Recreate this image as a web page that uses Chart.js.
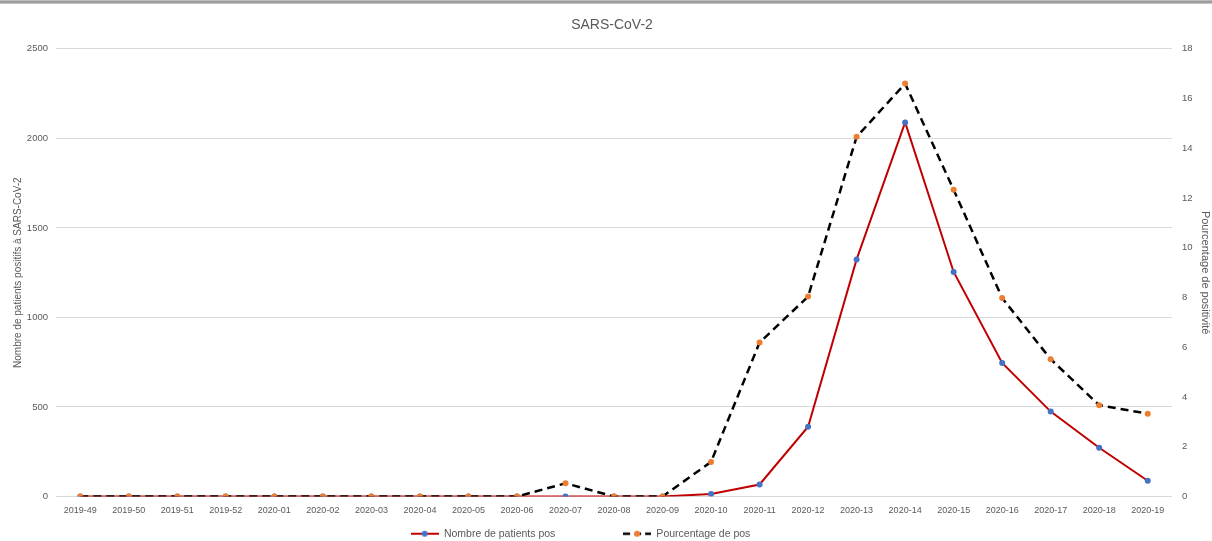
<!DOCTYPE html>
<html>
<head>
<meta charset="utf-8">
<script src="https://cdn.jsdelivr.net/npm/chart.js@4.4.1/dist/chart.umd.min.js"></script>
<style>
  html, body { margin: 0; padding: 0; background: #fff; }
  #wrap { position: relative; width: 1212px; height: 541px; }
  #topbar { position: absolute; left: 0; top: 0; width: 1212px; height: 4px;
    background: linear-gradient(#cfcfcf, #8a8a8a 50%, #d8d8d8); }
</style>
</head>
<body>
<div id="wrap">
  <canvas id="c" width="1212" height="541"></canvas>
  <div id="topbar"></div>
</div>
<script>
const FONT = "'Liberation Sans', sans-serif";
const GREY = "#595959";

const weeks = [
  "2019-49", "2019-50", "2019-51", "2019-52", "2020-01", "2020-02", "2020-03", "2020-04",
  "2020-05", "2020-06", "2020-07", "2020-08", "2020-09", "2020-10", "2020-11", "2020-12",
  "2020-13", "2020-14", "2020-15", "2020-16", "2020-17", "2020-18", "2020-19",
];
// nombre de patients positifs (axe gauche)
const patients = [0, 0, 0, 0, 0, 0, 0, 0, 0, 0, 0, 0, 0, 14, 67, 390, 1324, 2089, 1254, 746, 474, 272, 88];
// pourcentage de positivité (axe droit)
const pourcentage = [0, 0, 0, 0, 0, 0, 0, 0, 0, 0, 0.53, 0, 0, 1.39, 6.19, 8.04, 14.46, 16.6, 12.33, 7.98, 5.52, 3.67, 3.33];

const leftTicks = [0, 500, 1000, 1500, 2000, 2500];
const rightTicks = [0, 2, 4, 6, 8, 10, 12, 14, 16, 18];

function legendIcon(color, dash, dot) {
  const cv = document.createElement("canvas");
  cv.width = 28;
  cv.height = 8;
  const g = cv.getContext("2d");
  g.strokeStyle = color;
  g.lineWidth = dash ? 2.5 : 2;
  if (dash) g.setLineDash([7, 4]);
  g.beginPath();
  g.moveTo(0, 4);
  g.lineTo(28, 4);
  g.stroke();
  g.fillStyle = dot;
  g.beginPath();
  g.arc(14, 4, 3, 0, Math.PI * 2);
  g.fill();
  return cv;
}

const icons = [legendIcon("#c00000", false, "#4472c4"), legendIcon("#000000", true, "#ed7d31")];
// extra room after each legend entry, Excel spaces them widely
const legendGap = ["\u2003\u2003\u2003\u2003\u2003\u2002", "\u2003\u2003\u2003\u2003\u2003\u2003"];

new Chart(document.getElementById("c"), {
  type: "line",
  data: {
    labels: weeks,
    datasets: [
      {
        label: "Nombre de patients pos",
        data: patients,
        yAxisID: "y",
        borderColor: "#c00000",
        borderWidth: 2,
        pointBackgroundColor: "#4472c4",
        pointBorderWidth: 0,
        pointRadius: 3,
        tension: 0,
        order: 2,
      },
      {
        label: "Pourcentage de pos",
        data: pourcentage,
        yAxisID: "y1",
        borderColor: "#000000",
        borderWidth: 2.5,
        borderDash: [8, 5],
        pointBackgroundColor: "#ed7d31",
        pointBorderWidth: 0,
        pointRadius: 3,
        tension: 0,
        order: 1,
      },
    ],
  },
  options: {
    responsive: false,
    animation: false,
    layout: { padding: { top: 0, left: 12, right: 0, bottom: -8 } },
    plugins: {
      title: {
        display: true,
        text: "SARS-CoV-2",
        color: GREY,
        font: { family: FONT, size: 14, weight: "normal" },
        padding: { top: 17, bottom: 15 },
      },
      legend: {
        position: "bottom",
        labels: {
          color: GREY,
          font: { family: FONT, size: 10.5 },
          usePointStyle: true,
          pointStyleWidth: 28,
          padding: 10,
          generateLabels: (chart) =>
            chart.data.datasets.map((ds, i) => ({
              text: ds.label + legendGap[i],
              datasetIndex: i,
              pointStyle: icons[i],
              fontColor: GREY,
              lineWidth: 0,
              hidden: !chart.isDatasetVisible(i),
            })),
        },
      },
      tooltip: { enabled: false },
    },
    scales: {
      x: {
        offset: true,
        afterFit: (s) => { s.height = 22; },
        grid: { display: false, drawTicks: false },
        border: { display: false },
        ticks: { color: GREY, font: { family: FONT, size: 9 }, maxRotation: 0, autoSkip: false, padding: 9 },
      },
      y: {
        position: "left",
        min: 0,
        max: 2500,
        afterBuildTicks: (s) => { s.ticks = leftTicks.map((v) => ({ value: v })); },
        afterFit: (s) => { s.width = 44; },
        grid: { color: "#d9d9d9", drawTicks: false },
        border: { display: false },
        ticks: { color: GREY, font: { family: FONT, size: 9.5 }, padding: 8, callback: (v) => String(v) },
        title: {
          display: true,
          text: "Nombre de patients positifs à SARS-CoV-2",
          color: GREY,
          font: { family: FONT, size: 10 },
          padding: 0,
        },
      },
      y1: {
        position: "right",
        min: 0,
        max: 18,
        afterBuildTicks: (s) => { s.ticks = rightTicks.map((v) => ({ value: v })); },
        afterFit: (s) => { s.width = 40; },
        grid: { display: false, drawTicks: false },
        border: { display: false },
        ticks: { color: GREY, font: { family: FONT, size: 9.5 }, padding: 10, callback: (v) => String(v) },
        title: {
          display: true,
          text: "Pourcentage de positivité",
          color: GREY,
          font: { family: FONT, size: 11 },
          padding: { top: 0, bottom: 2 },
        },
      },
    },
  },
});
</script>
</body>
</html>
